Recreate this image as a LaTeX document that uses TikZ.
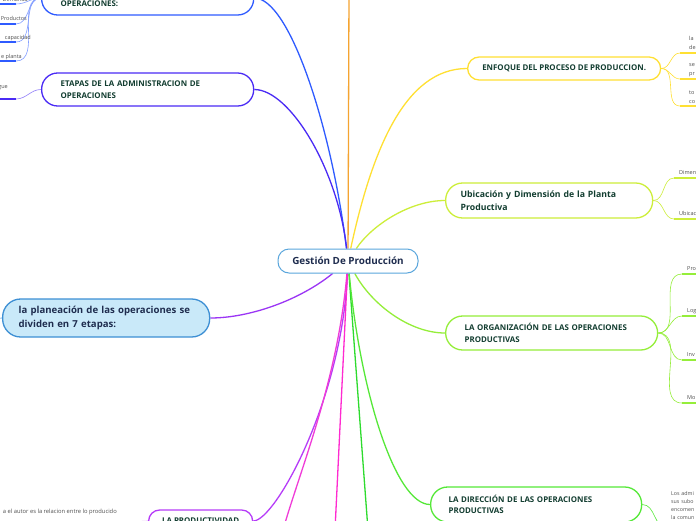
\documentclass[tikz,border=0pt]{standalone}
\usepackage{fontspec}
\setmainfont{Open Sans}
\usepackage{xcolor}
\usetikzlibrary{backgrounds}

% Colores de las ramas
\definecolor{naranja}{HTML}{F5A430}
\definecolor{azulrama}{HTML}{2F5BFF}
\definecolor{indigo}{HTML}{4A2BF5}
\definecolor{violeta}{HTML}{9B35F5}
\definecolor{morado}{HTML}{B63CF8}
\definecolor{rosa}{HTML}{F03CD8}
\definecolor{fucsia}{HTML}{FF2AD0}
\definecolor{verde}{HTML}{2EDB2E}
\definecolor{verdeclaro}{HTML}{55E838}
\definecolor{lima}{HTML}{95EE3A}
\definecolor{limon}{HTML}{CDEE3A}
\definecolor{amarillo}{HTML}{FFE033}
\definecolor{celeste}{HTML}{5AA6DC}
\definecolor{azulplan}{HTML}{3D8FD4}
\definecolor{celestefondo}{HTML}{C9E9F9}
\definecolor{textorama}{HTML}{123D30}
\definecolor{textocentro}{HTML}{1E2C4E}
\definecolor{textohoja}{HTML}{505050}

\begin{document}
\begin{tikzpicture}[x=1pt, y=-1pt,
  rama/.style={draw, line width=1.3pt, fill=white, anchor=west, align=left,
    text=textorama, font=\bfseries\fontsize{7.9}{11.5}\selectfont},
  conector/.style={line width=1.3pt},
  hilo/.style={line width=0.6pt},
  subraya/.style={line width=1.6pt},
  hoja/.style={inner sep=0pt, anchor=base west, align=left, text=textohoja,
    font=\fontsize{5.5}{9.5}\selectfont}]

\useasboundingbox (0,0) rectangle (696,520);

% Nodo central
\node[draw=celeste, line width=1pt, fill=white, rounded corners=11pt,
  minimum width=140pt, minimum height=24pt, text=textocentro,
  font=\bfseries\fontsize{9.9}{11}\selectfont] (centro) at (348,261) {Gestión De Producción};

% Ramas de la izquierda
\node[rama, draw=azulrama, rounded corners=16pt, minimum width=212pt, minimum height=34pt,
  text width=174pt, inner xsep=19pt, text height=18pt, text depth=2pt] (opera) at (41,-2) {OPERACIONES:};
\node[rama, draw=indigo, rounded corners=16pt, minimum width=212pt, minimum height=33pt,
  text width=174pt, inner xsep=19pt] (etapas) at (41,89.5) {ETAPAS DE LA ADMINISTRACION DE\\OPERACIONES};
\node[rama, draw=azulplan, fill=celestefondo, text=textocentro, rounded corners=18pt,
  minimum width=207pt, minimum height=38pt, text width=175pt, inner xsep=16pt,
  font=\bfseries\fontsize{9.6}{14}\selectfont] (plan) at (2,318) {la planeación de las operaciones se\\dividen en 7 etapas:};
\node[rama, draw=morado, rounded corners=11pt, minimum width=104pt, minimum height=22pt] (produc) at (148,521) {LA PRODUCTIVIDAD};

% Ramas de la derecha
\node[rama, draw=amarillo, rounded corners=11.5pt, minimum width=193pt, minimum height=23pt] (enfoque) at (467,68.5) {ENFOQUE DEL PROCESO DE PRODUCCION.};
\node[rama, draw=limon, rounded corners=17pt, minimum width=207pt, minimum height=35pt,
  text width=177pt, inner xsep=15pt, font=\bfseries\fontsize{8.7}{13}\selectfont] (ubica) at (445,200.5) {Ubicación y Dimensión de la Planta\\Productiva};
\node[rama, draw=lima, rounded corners=17pt, minimum width=212pt, minimum height=34pt,
  text width=174pt, inner xsep=19pt] (organiza) at (445,333) {LA ORGANIZACIÓN DE LAS OPERACIONES\\PRODUCTIVAS};
\node[rama, draw=verdeclaro, rounded corners=17pt, minimum width=211pt, minimum height=35pt,
  text width=175pt, inner xsep=18pt] (direccion) at (430,504.5) {LA DIRECCIÓN DE LAS OPERACIONES\\PRODUCTIVAS};

% Hojas de la izquierda
\node[hoja, anchor=base east] (h1) at (28,1) {Demanda};
\node[hoja, anchor=base east] (h2) at (27,20) {Productos};
\node[hoja, anchor=base east] (h3) at (31,39) {capacidad};
\node[hoja, anchor=base east] (h4) at (22,58) {e planta};
\node[hoja, anchor=base east] (h5) at (8,88) {gue};
\node[hoja, anchor=base east, font=\fontsize{5.8}{8}\selectfont] (h6) at (117,513) {a el autor es la relacion entre lo producido};
\coordinate (s1) at (16,4);
\coordinate (s2) at (16,24);
\coordinate (s3) at (16,42);
\coordinate (s4) at (16,61);
\coordinate (s5) at (16,99);
\coordinate (s6) at (118,524);
\coordinate (s7) at (-40,345);

% Hojas de la derecha
\node[hoja, text width=20pt] (e1) at (689,40) {la\\de};
\node[hoja, text width=20pt] (e2) at (689,66) {se\\pr};
\node[hoja, text width=20pt] (e3) at (689,94) {to\\co};
\node[hoja] (b1) at (679,174) {Dimen};
\node[hoja] (b2) at (679,215) {Ubicac};
\node[hoja] (o1) at (687,270) {Pro};
\node[hoja] (o2) at (687,312) {Log};
\node[hoja] (o3) at (687,356) {Inv};
\node[hoja] (o4) at (687,399) {Mo};
\node[hoja, text width=30pt, font=\fontsize{5.3}{8.2}\selectfont] (d1) at (671,495) {Los admi\\sus subo\\encomen\\la comun};
\coordinate (u1) at (680,53);
\coordinate (u2) at (680,79);
\coordinate (u3) at (680,106);
\coordinate (u4) at (674,178);
\coordinate (u5) at (674,219);
\coordinate (u6) at (682,274);
\coordinate (u7) at (682,316);
\coordinate (u8) at (682,360);
\coordinate (u9) at (682,403);
\coordinate (u10) at (667,528);

% Conectores detras de los nodos
\begin{scope}[on background layer]
\fill[white] (0,0) rectangle (696,520);

% ramas principales
\coordinate (arriba) at (349,-10);
\coordinate (abajo1) at (283,530);
\coordinate (abajo2) at (335,530);
\coordinate (abajo3) at (368,530);
\draw[conector, naranja] (centro) -- (arriba);
\draw[conector, azulrama] (centro) .. controls (332,130) and (290,-2) .. (opera.east);
\draw[conector, indigo] (centro) .. controls (338,170) and (290,89.5) .. (etapas.east);
\draw[conector, violeta] (centro) .. controls (300,300) and (250,318) .. (plan.east);
\draw[conector, morado] (centro) .. controls (342,400) and (275,521) .. (produc.east);
\draw[conector, rosa] (centro) .. controls (338,380) and (300,470) .. (abajo1);
\draw[conector, fucsia] (centro) -- (abajo2);
\draw[conector, verde] (centro) -- (abajo3);
\draw[conector, verdeclaro] (centro) .. controls (360,390) and (395,504.5) .. (direccion.west);
\draw[conector, lima] (centro) .. controls (372,305) and (410,333) .. (organiza.west);
\draw[conector, limon] (centro) .. controls (372,225) and (410,200.5) .. (ubica.west);
\draw[conector, amarillo] (centro) .. controls (372,150) and (405,68.5) .. (enfoque.west);

% hilos hacia las hojas de la izquierda
\draw[hilo, azulrama!60] (opera.west) to[out=180,in=0] (s1);
\draw[hilo, azulrama!60] (opera.west) to[out=180,in=0] (s2);
\draw[hilo, azulrama!60] (opera.west) to[out=180,in=0] (s3);
\draw[hilo, azulrama!60] (opera.west) to[out=180,in=0] (s4);
\draw[hilo, indigo!60] (etapas.west) to[out=180,in=0] (s5);
\draw[hilo, morado!60] (produc.west) to[out=180,in=0] (s6);
\draw[hilo, azulplan] (plan.west) to[out=180,in=0] (s7);
\draw[subraya, azulrama] (s1) -- ++(-30,0);
\draw[subraya, azulrama] (s2) -- ++(-30,0);
\draw[subraya, azulrama] (s3) -- ++(-30,0);
\draw[subraya, azulrama] (s4) -- ++(-30,0);
\draw[subraya, indigo] (s5) -- ++(-30,0);
\draw[subraya, morado] (s6) -- ++(-130,0);

% hilos hacia las hojas de la derecha
\draw[hilo, amarillo] (enfoque.east) to[out=0,in=180] (u1);
\draw[hilo, amarillo] (enfoque.east) to[out=0,in=180] (u2);
\draw[hilo, amarillo] (enfoque.east) to[out=0,in=180] (u3);
\draw[hilo, limon] (ubica.east) to[out=0,in=180] (u4);
\draw[hilo, limon] (ubica.east) to[out=0,in=180] (u5);
\draw[hilo, lima] (organiza.east) to[out=0,in=180] (u6);
\draw[hilo, lima] (organiza.east) to[out=0,in=180] (u7);
\draw[hilo, lima] (organiza.east) to[out=0,in=180] (u8);
\draw[hilo, lima] (organiza.east) to[out=0,in=180] (u9);
\draw[hilo, verdeclaro] (direccion.east) to[out=0,in=180] (u10);
\draw[subraya, amarillo] (u1) -- ++(30,0);
\draw[subraya, amarillo] (u2) -- ++(30,0);
\draw[subraya, amarillo] (u3) -- ++(30,0);
\draw[subraya, limon] (u4) -- ++(30,0);
\draw[subraya, limon] (u5) -- ++(30,0);
\draw[subraya, lima] (u6) -- ++(30,0);
\draw[subraya, lima] (u7) -- ++(30,0);
\draw[subraya, lima] (u8) -- ++(30,0);
\draw[subraya, lima] (u9) -- ++(30,0);
\draw[subraya, verdeclaro] (u10) -- ++(40,0);
\end{scope}

\end{tikzpicture}
\end{document}
